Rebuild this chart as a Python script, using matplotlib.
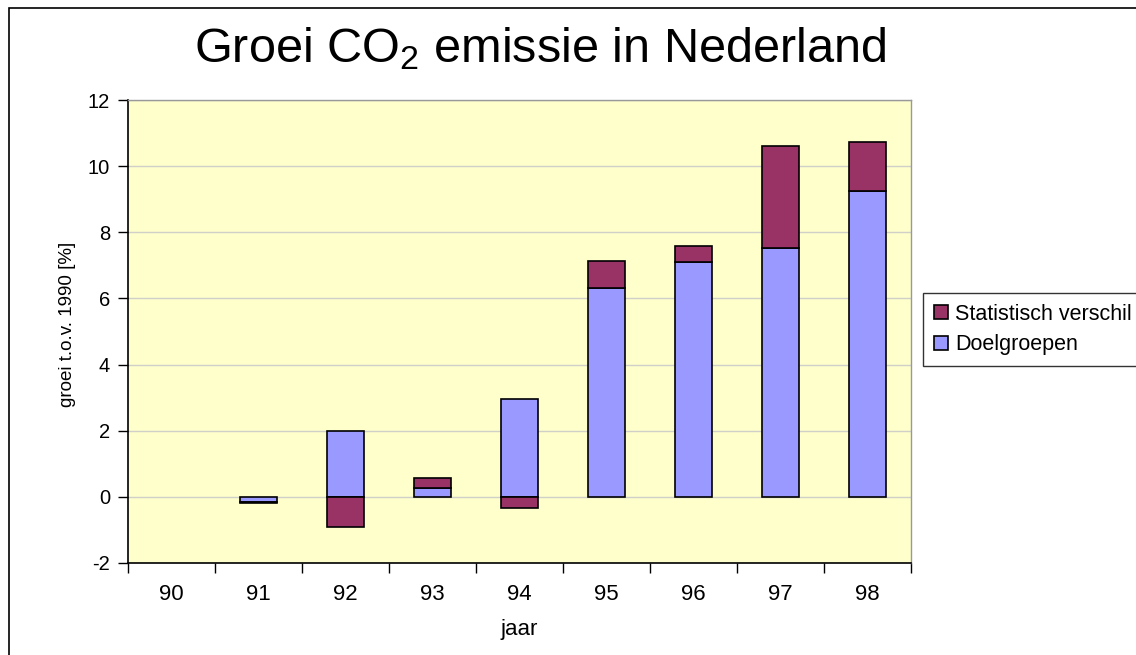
import matplotlib
matplotlib.use("Agg")
import matplotlib.pyplot as plt
from matplotlib.patches import Rectangle
import numpy as np

plt.rcParams['font.family'] = ['Liberation Sans', 'DejaVu Sans']
plt.rcParams['mathtext.default'] = 'regular'
plt.rcParams['axes.unicode_minus'] = False

jaren = ['90', '91', '92', '93', '94', '95', '96', '97', '98']
doelgroepen = [0.0, -0.15, 2.0, 0.28, 2.96, 6.33, 7.1, 7.52, 9.25]
stat_verschil = [0.0, -0.05, -0.9, 0.3, -0.35, 0.81, 0.5, 3.09, 1.49]

blauw = '#9999FF'
paars = '#993366'

fig = plt.figure(figsize=(11.36, 6.55), dpi=100)
W, H = 1136, 655
ax = fig.add_axes([128 / W, 1 - 563 / H, 783 / W, 463 / H])
ax.set_facecolor('#FFFFCC')

x = np.arange(len(jaren))
doel = np.array(doelgroepen)
stat = np.array(stat_verschil)
# positive and negative parts stack separately, as in a spreadsheet chart
bodem = np.where(stat >= 0, np.maximum(doel, 0), np.minimum(doel, 0))

breedte = 0.42
d = doel != 0
s = stat != 0
ax.bar(x[d], doel[d], breedte, color=blauw, edgecolor='black', linewidth=1.2,
       label='Doelgroepen', zorder=3)
ax.bar(x[s], stat[s], breedte, bottom=bodem[s], color=paars, edgecolor='black',
       linewidth=1.2, label='Statistisch verschil', zorder=3)

ax.set_xlim(-0.5, len(jaren) - 0.5)
ax.set_ylim(-2, 12)
ax.set_yticks(range(-2, 13, 2))
ax.yaxis.grid(True, color='#D0D0C8', linewidth=1, zorder=0)
ax.set_axisbelow(True)

ax.set_xticks(x)
ax.set_xticklabels(jaren)
ax.set_xticks(np.arange(-0.5, len(jaren)), minor=True)
ax.tick_params(axis='x', which='major', length=0, pad=15, labelsize=16)
ax.tick_params(axis='x', which='minor', length=7, width=1, direction='out')
ax.tick_params(axis='y', length=7, width=1, direction='out', labelsize=14.5, pad=6)

for sp in ['left', 'bottom']:
    ax.spines[sp].set_color('black')
    ax.spines[sp].set_linewidth(1.2)
for sp in ['top', 'right']:
    ax.spines[sp].set_color('#999999')
    ax.spines[sp].set_linewidth(1)

ax.set_xlabel('jaar', fontsize=16, labelpad=10)
ax.set_ylabel('groei t.o.v. 1990 [%]', fontsize=13.5)
ax.yaxis.set_label_coords(-0.0665, 0.515)

fig.text(540 / W, 1 - 62 / H, 'Groei CO$_2$ emissie in Nederland',
         fontsize=35, ha='center', va='baseline')

handles, labels = ax.get_legend_handles_labels()
leg = fig.legend(handles[::-1], labels[::-1], loc='upper left',
                 bbox_to_anchor=(923 / W, 1 - 293 / H), fontsize=15.5,
                 frameon=True, fancybox=False, edgecolor='black',
                 handlelength=0.65, handleheight=0.65, handletextpad=0.35,
                 borderpad=0.5, labelspacing=0.45, borderaxespad=0)
leg.get_frame().set_linewidth(1)

# outer chart border
fig.patches.append(Rectangle((9 / W, -0.2), 1.5, 1.2 - 8 / H,
                             transform=fig.transFigure, fill=False,
                             edgecolor='black', linewidth=1.2))

fig.savefig('out.png', dpi=100)
